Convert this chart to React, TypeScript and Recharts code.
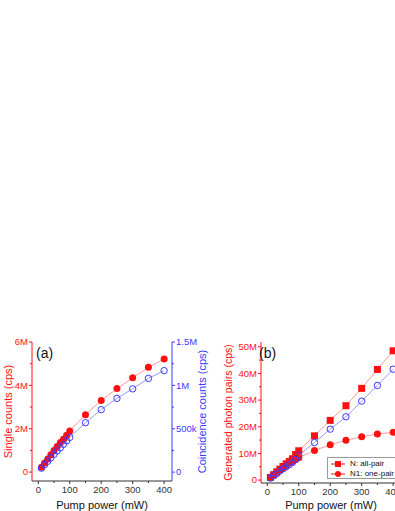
import React from "react";
import { LineChart, Line, XAxis, YAxis, Legend } from "recharts";

const RED = "#FF1010";
const BLUE = "#3A3AFF";
const RED_LINE = "#FF9A9A";
const BLUE_LINE = "#9A9AFF";
const AXIS = "#333333";
const TOP_AXIS = "#8C8C8C";
const FONT = "'Liberation Sans', Arial, sans-serif";

// pump power (mW)
const power = [10, 20, 30, 40, 50, 60, 70, 80, 90, 100, 150, 200, 250, 300, 350, 400];
// (a) single counts, cps
const singleCounts = [0.22e6, 0.42e6, 0.6e6, 0.8e6, 1.0e6, 1.18e6, 1.36e6, 1.52e6, 1.7e6, 1.9e6, 2.65e6, 3.3e6, 3.85e6, 4.35e6, 4.83e6, 5.22e6];
// (a) coincidence counts, cps
const coincCounts = [0.045e6, 0.085e6, 0.125e6, 0.165e6, 0.205e6, 0.245e6, 0.28e6, 0.32e6, 0.36e6, 0.4e6, 0.57e6, 0.72e6, 0.85e6, 0.96e6, 1.08e6, 1.17e6];
// (b) generated photon pairs
const allPair = [1.0e6, 2.0e6, 3.1e6, 4.1e6, 5.1e6, 6.1e6, 7.0e6, 8.0e6, 9.6e6, 11.0e6, 16.6e6, 22.4e6, 27.9e6, 34.4e6, 41.5e6, 48.5e6];
const onePair = [1.0e6, 1.9e6, 2.9e6, 3.75e6, 4.6e6, 5.5e6, 6.4e6, 7.0e6, 7.75e6, 8.4e6, 11.1e6, 13.25e6, 14.9e6, 16.25e6, 17.25e6, 17.9e6];
const fromCoinc = [0.75e6, 1.6e6, 2.4e6, 3.4e6, 4.25e6, 5.0e6, 5.75e6, 6.6e6, 7.75e6, 9.25e6, 14.1e6, 19.1e6, 23.75e6, 29.6e6, 35.5e6, 41.6e6];

const xTicks = [0, 50, 100, 150, 200, 250, 300, 350, 400];
const singleTicks = [0, 1e6, 2e6, 3e6, 4e6, 5e6, 6e6];
const coincTicks = [0, 0.25e6, 0.5e6, 0.75e6, 1e6, 1.25e6, 1.5e6];
const pairTicks = [0, 5e6, 10e6, 15e6, 20e6, 25e6, 30e6, 35e6, 40e6, 45e6, 50e6];
const legendOrder = ["all", "one"];

const dataA = power.map((p, i) => ({ p, single: singleCounts[i], coinc: coincCounts[i] }));
const dataB = power.map((p, i) => ({ p, all: allPair[i], one: onePair[i], coinc: fromCoinc[i] }));

const fmtX = (v: number) => (v % 100 === 0 ? String(v) : "");
const fmtEvenM = (v: number) => (v === 0 ? "0" : v % 2e6 === 0 ? `${v / 1e6}M` : "");
const fmtCoinc = (v: number) => {
  if (v === 0) return "0";
  if (v === 0.5e6) return "500k";
  if (v === 1e6) return "1M";
  if (v === 1.5e6) return "1.5M";
  return "";
};
const fmtPairs = (v: number) => (v === 0 ? "0" : v % 10e6 === 0 ? `${v / 1e6}M` : "");

const TICK_FS = 9.5;

function makeTick(side: "left" | "right" | "bottom" | "top", color: string, fmt: (v: number) => string) {
  return (props: any) => {
    const { x, y, payload } = props;
    const label = fmt(payload.value);
    const len = label ? 3 : 2;
    if (side === "left") {
      return (
        <g>
          <line x1={x} x2={x - len} y1={y} y2={y} stroke={color} />
          <text x={x - 4} y={y} dy="0.35em" textAnchor="end" fill={color} fontSize={TICK_FS} fontFamily={FONT}>{label}</text>
        </g>
      );
    }
    if (side === "right") {
      return (
        <g>
          <line x1={x} x2={x + len} y1={y} y2={y} stroke={color} />
          <text x={x + 4} y={y} dy="0.35em" textAnchor="start" fill={color} fontSize={TICK_FS} fontFamily={FONT}>{label}</text>
        </g>
      );
    }
    if (side === "top") {
      return <line x1={x} x2={x} y1={y} y2={y + len} stroke={color} />;
    }
    return (
      <g>
        <line x1={x} x2={x} y1={y} y2={y + len} stroke={color} />
        <text x={x} y={y + 4} dy="0.8em" textAnchor="middle" fill={AXIS} fontSize={TICK_FS} fontFamily={FONT}>{label}</text>
      </g>
    );
  };
}

const squareDot = (props: any) => {
  const { cx, cy, index } = props;
  if (cx == null || cy == null) return <g key={`sq-${index}`} />;
  return <rect key={`sq-${index}`} x={cx - 3.5} y={cy - 3.5} width={7} height={7} fill={RED} />;
};

function LegendBox({ payload }: any) {
  const items = (payload || [])
    .filter((p: any) => legendOrder.includes(p.dataKey))
    .sort((a: any, b: any) => legendOrder.indexOf(a.dataKey) - legendOrder.indexOf(b.dataKey));
  return (
    <div style={{ width: 80, height: 22, border: "1px solid #9a9a9a", background: "#fff", fontFamily: FONT, fontSize: 8, color: "#111", boxSizing: "border-box", paddingTop: 0.5 }}>
      {items.map((it: any) => (
        <div key={it.dataKey} style={{ display: "flex", alignItems: "center", height: 10, whiteSpace: "nowrap" }}>
          <svg width={19} height={10} style={{ marginLeft: 3, flex: "none" }}>
            <line x1={0} x2={14} y1={5} y2={5} stroke={RED} />
            {it.dataKey === "all" ? (
              <rect x={4} y={2} width={6} height={6} fill={RED} />
            ) : (
              <circle cx={7} cy={5} r={3} fill={RED} />
            )}
          </svg>
          <span style={{ lineHeight: "10px" }}>{it.value}</span>
        </div>
      ))}
    </div>
  );
}

const titleStyle = { fontFamily: FONT, fontSize: 11 };

export default function App() {
  return (
    <div style={{ position: "fixed", left: 0, top: 0, width: 395, height: 511, overflow: "hidden", background: "#fff" }}>
      <div style={{ position: "absolute", left: 0, top: 330 }}>
        <LineChart width={230} height={181} data={dataA} margin={{ top: 12, right: 0, left: 0, bottom: 0 }}>
          <XAxis xAxisId="b" dataKey="p" type="number" domain={[-20, 425]} ticks={xTicks} interval={0} tick={makeTick("bottom", AXIS, fmtX)}
            tickLine={false} tickSize={0} tickMargin={0} height={30} stroke={AXIS} allowDataOverflow
            label={{ value: "Pump power (mW)", position: "insideBottom", offset: 2, fill: "#111", style: titleStyle }} />
          <XAxis xAxisId="t" orientation="top" dataKey="p" type="number" domain={[-20, 425]} ticks={xTicks} interval={0} tick={makeTick("top", TOP_AXIS, fmtX)}
            tickLine={false} tickSize={0} tickMargin={0} height={0} stroke={TOP_AXIS} strokeWidth={1.5} allowDataOverflow />
          <YAxis yAxisId="l" type="number" domain={[-0.41e6, 6e6]} ticks={singleTicks} interval={0} tick={makeTick("left", RED, fmtEvenM)}
            tickLine={false} tickSize={0} tickMargin={0} width={32} stroke={RED} allowDataOverflow
            label={{ value: "Single counts (cps)", angle: -90, position: "insideLeft", offset: 8, fill: RED, style: { ...titleStyle, textAnchor: "middle" } }} />
          <YAxis yAxisId="r" orientation="right" type="number" domain={[-0.1025e6, 1.5e6]} ticks={coincTicks} interval={0} tick={makeTick("right", BLUE, fmtCoinc)}
            tickLine={false} tickSize={0} tickMargin={0} width={58} stroke={BLUE} allowDataOverflow
            label={{ value: "Coincidence counts (cps)", angle: -90, position: "insideLeft", offset: 30, fill: BLUE, style: { ...titleStyle, textAnchor: "middle" } }} />
          <Line xAxisId="b" yAxisId="l" dataKey="single" name="Single counts" stroke={RED_LINE} strokeWidth={1}
            dot={{ r: 3.5, fill: RED, stroke: RED, strokeWidth: 0 }} isAnimationActive={false} />
          <Line xAxisId="b" yAxisId="r" dataKey="coinc" name="Coincidence counts" stroke={BLUE_LINE} strokeWidth={1}
            dot={{ r: 3.2, fill: "none", stroke: BLUE, strokeWidth: 1 }} isAnimationActive={false} />
        </LineChart>
      </div>

      <div style={{ position: "absolute", left: 181, top: 330 }}>
        <LineChart width={230} height={181} data={dataB} margin={{ top: 12, right: 10, left: 0, bottom: 0 }}>
          <XAxis xAxisId="b" dataKey="p" type="number" domain={[-20, 425]} ticks={xTicks} interval={0} tick={makeTick("bottom", AXIS, fmtX)}
            tickLine={false} tickSize={0} tickMargin={0} height={28} stroke={AXIS} allowDataOverflow
            label={{ value: "Pump power (mW)", position: "insideBottom", offset: 2, fill: "#111", style: titleStyle }} />
          <XAxis xAxisId="t" orientation="top" dataKey="p" type="number" domain={[-20, 425]} ticks={xTicks} interval={0} tick={makeTick("top", TOP_AXIS, fmtX)}
            tickLine={false} tickSize={0} tickMargin={0} height={0} stroke={TOP_AXIS} strokeWidth={1.5} allowDataOverflow />
          <YAxis yAxisId="l" type="number" domain={[-1.1e6, 51.8e6]} ticks={pairTicks} interval={0} tick={makeTick("left", RED, fmtPairs)}
            tickLine={false} tickSize={0} tickMargin={0} width={80} stroke={RED} allowDataOverflow
            label={{ value: "Generated photon pairs (cps)", angle: -90, position: "insideLeft", offset: 47, fill: RED, style: { ...titleStyle, fontSize: 10.5, textAnchor: "middle" } }} />
          <Legend layout="horizontal" verticalAlign="middle" align="center" content={<LegendBox />}
            wrapperStyle={{ position: "absolute", left: 146, top: 127, width: 80 }} />
          <Line xAxisId="b" yAxisId="l" dataKey="all" name="N: all-pair" stroke={RED_LINE} strokeWidth={1}
            dot={squareDot} isAnimationActive={false} />
          <Line xAxisId="b" yAxisId="l" dataKey="one" name="N1: one-pair" stroke={RED_LINE} strokeWidth={1}
            dot={{ r: 3.5, fill: RED, stroke: RED, strokeWidth: 0 }} isAnimationActive={false} />
          <Line xAxisId="b" yAxisId="l" dataKey="coinc" name="from coincidences" legendType="none" stroke={BLUE_LINE} strokeWidth={1}
            dot={{ r: 3.2, fill: "none", stroke: BLUE, strokeWidth: 1 }} isAnimationActive={false} />
        </LineChart>
      </div>

      <div style={{ position: "absolute", left: 36, top: 346, fontFamily: FONT, fontSize: 14, lineHeight: "14px", color: "#111" }}>(a)</div>
      <div style={{ position: "absolute", left: 259, top: 346, fontFamily: FONT, fontSize: 14, lineHeight: "14px", color: "#111" }}>(b)</div>
    </div>
  );
}
